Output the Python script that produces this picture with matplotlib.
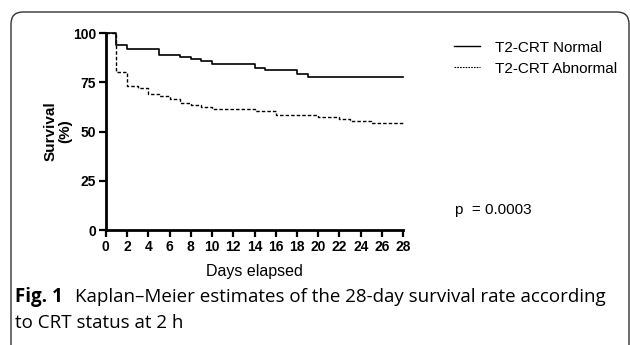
#importing package
import numpy as np
import matplotlib.pyplot as plt
from matplotlib.patches import FancyBboxPatch
from matplotlib.lines import Line2D

#survival data (day, percent)
normal_days = [0, 1, 2, 5, 7, 8, 9, 10, 14, 15, 18, 19, 28]
normal_surv = [100, 94, 92, 89, 88, 87, 86, 84.3, 82.5, 81.5, 79.5, 77.5, 77.5]
abnormal_days = [0, 1, 2, 3, 4, 5, 6, 7, 8, 9, 10, 14, 16, 20, 22, 23, 25, 28]
abnormal_surv = [100, 80.5, 73, 72, 69, 68, 66.5, 64.5, 63.5, 62.5, 61.5, 60.5,
                 58.5, 57.5, 56.5, 55.5, 54.5, 54.5]
x_ticks = np.arange(0, 29, 2)
y_ticks = [0, 25, 50, 75, 100]
labels = ['T2-CRT Normal', 'T2-CRT Abnormal']

fig = plt.figure(figsize=(6.3, 3.45), dpi=100)
ax = fig.add_axes([0.168, 0.333, 0.472, 0.571])

ax.step(normal_days, normal_surv, where='post', color='black', lw=1.2, clip_on=False)
ax.step(abnormal_days, abnormal_surv, where='post', color='black', lw=1.0,
        linestyle=(0, (2.5, 1.5)), clip_on=False)

ax.set_xlim(0, 28)
ax.set_ylim(0, 100)
ax.set_xticks(x_ticks)
ax.set_yticks(y_ticks)
for s in ['top', 'right']:
    ax.spines[s].set_visible(False)
for s in ['left', 'bottom']:
    ax.spines[s].set_linewidth(2)
ax.tick_params(width=1.6, length=5, pad=2, labelsize=10)
for t in ax.get_xticklabels() + ax.get_yticklabels():
    t.set_fontfamily('Liberation Sans')
    t.set_fontweight('bold')
ax.set_xlabel('Days elapsed', fontfamily='Liberation Sans', fontsize=11.5, labelpad=7)
fig.text(58/630, 1 - 131/345, 'Survival\n(%)', rotation=90, ha='center', va='center',
         fontfamily='Liberation Sans', fontweight='bold', fontsize=11, linespacing=1.0)

#legend
handles = [Line2D([], [], color='black', lw=1.0),
           Line2D([], [], color='black', lw=0.8, linestyle=(0, (1.5, 1)))]
fig.legend(handles, labels, loc='upper left', bbox_to_anchor=(440/630, 1 - 27/345),
           frameon=False, handlelength=1.7, handletextpad=1.0, labelspacing=0.45,
           prop={'family': 'Liberation Sans', 'size': 11})

fig.text(455/630, 1 - 210/345, 'p  = 0.0003', fontfamily='Liberation Sans', fontsize=11,
         va='center')

#caption
fig.text(15/630, 1 - 302/345, 'Fig. 1', fontfamily='Open Sans', fontsize=13.5,
         fontweight='bold', va='baseline')
fig.text(75/630, 1 - 302/345, 'Kaplan\u2013Meier estimates of the 28-day survival rate according',
         fontfamily='Open Sans', fontsize=13.5, va='baseline')
fig.text(15/630, 1 - 328/345, 'to CRT status at 2 h', fontfamily='Open Sans',
         fontsize=13.5, va='baseline')

#frame around figure
fig.patches.append(FancyBboxPatch((11, -20), 618, 345 - 12 + 20,
                                  boxstyle='round,pad=0,rounding_size=12',
                                  transform=None, fill=False, lw=1, ec='#333333'))

fig.savefig('out.png', dpi=100)
